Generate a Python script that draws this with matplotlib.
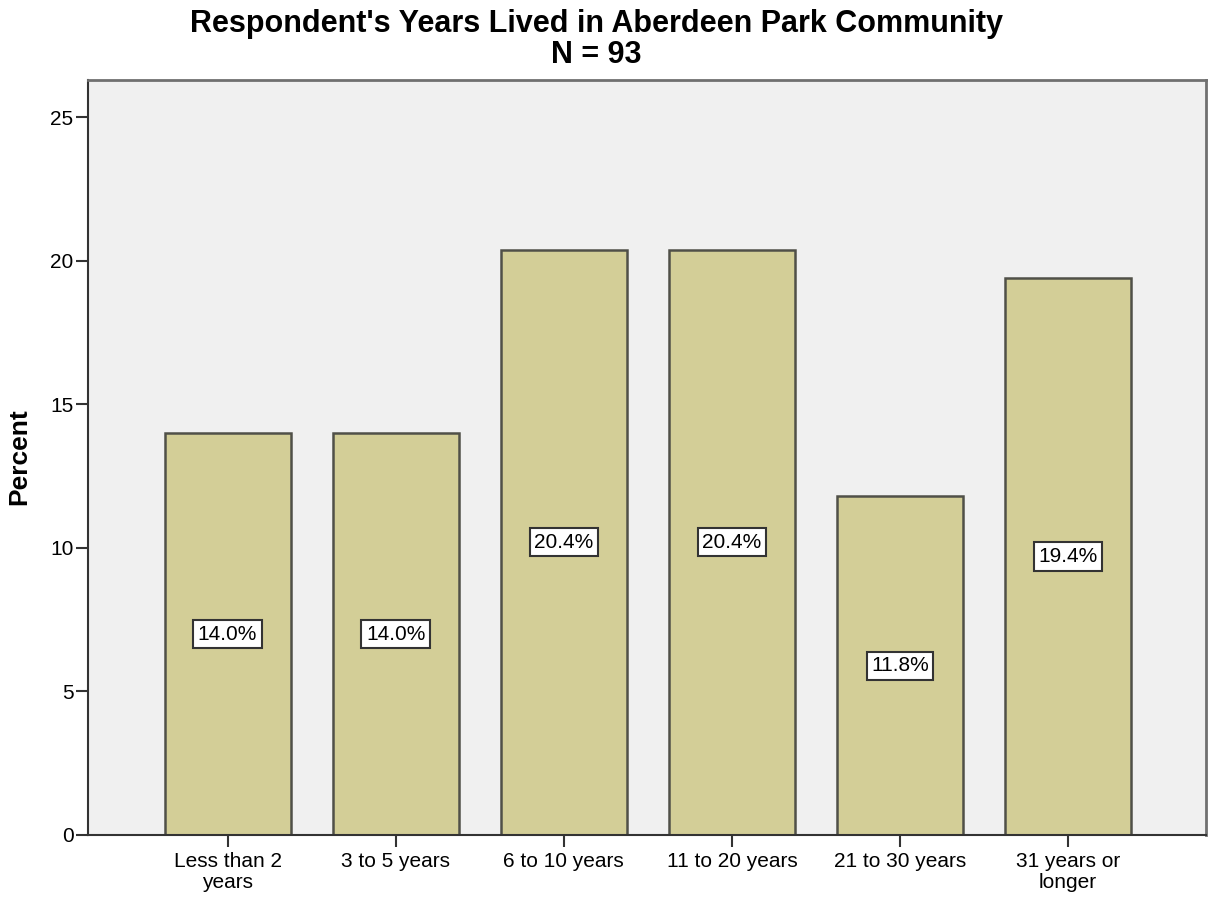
import matplotlib.pyplot as plt

plt.rcParams['font.family'] = ['Liberation Sans', 'DejaVu Sans']

categories = ['Less than 2\nyears', '3 to 5 years', '6 to 10 years',
              '11 to 20 years', '21 to 30 years', '31 years or\nlonger']
percents = [14.0, 14.0, 20.4, 20.4, 11.8, 19.4]
yticks = [0, 5, 10, 15, 20, 25]

fig = plt.figure(figsize=(12.09, 9.01), dpi=100)
ax = fig.add_axes([0.0728, 0.0733, 0.9247, 0.8377])
ax.set_facecolor('#f0f0f0')

x = list(range(len(categories)))
ax.bar(x, percents, width=0.75, color='#d3ce97', edgecolor='#505048', linewidth=1.8, zorder=2)

# value labels in white boxes at half the bar height
for xi, p in zip(x, percents):
    ax.text(xi, p / 2, f'{p:.1f}%', ha='center', va='center', fontsize=15, zorder=3,
            bbox=dict(boxstyle='square,pad=0.22', facecolor='white', edgecolor='#333333', linewidth=1.5))

ax.set_xlim(-0.83, 5.82)
ax.set_ylim(0, 26.3)
ax.set_xticks(x)
ax.set_xticklabels(categories, fontsize=15, linespacing=1.12)
ax.set_yticks(yticks)
ax.set_yticklabels([str(t) for t in yticks], fontsize=15)
ax.tick_params(axis='both', direction='out', length=8.5, width=1.5, color='#333333', pad=2)
ax.tick_params(axis='x', pad=4)

for side in ['left', 'bottom']:
    ax.spines[side].set_color('#333333')
    ax.spines[side].set_linewidth(1.5)
for side in ['top', 'right']:
    ax.spines[side].set_color('#707070')
    ax.spines[side].set_linewidth(2)

fig.text(19 / 1209, 1 - 457 / 901, 'Percent', rotation=90, ha='center', va='center',
         fontsize=19, fontweight='bold')

fig.text(0.493, 1 - 32 / 901, "Respondent's Years Lived in Aberdeen Park Community",
         ha='center', va='baseline', fontsize=22, fontweight='bold')
fig.text(0.493, 1 - 63 / 901, "N = 93",
         ha='center', va='baseline', fontsize=22, fontweight='bold')

fig.savefig('out.png', dpi=100)
